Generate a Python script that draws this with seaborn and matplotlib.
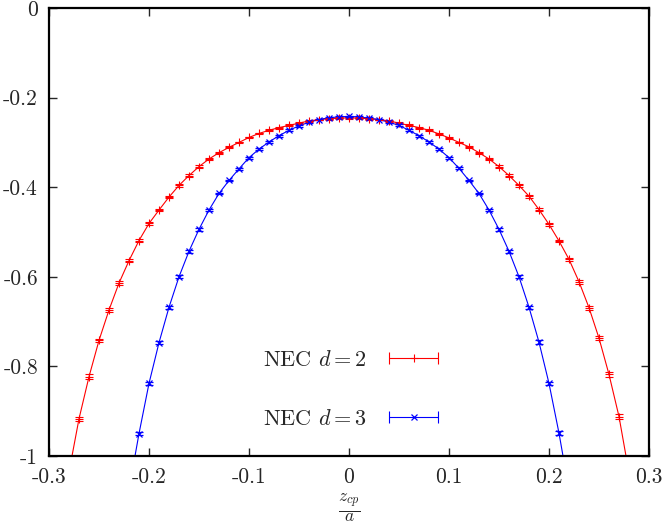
import matplotlib
matplotlib.use('Agg')
import matplotlib.pyplot as plt
import seaborn as sns
import pandas as pd
from matplotlib.lines import Line2D
from matplotlib.legend_handler import HandlerLine2D, HandlerTuple

# NEC d = 2 (red)
red_x = [-0.27, -0.26, -0.25, -0.24, -0.23, -0.22, -0.21, -0.20, -0.19, -0.18,
         -0.17, -0.16, -0.15, -0.14, -0.13, -0.12, -0.11, -0.10, -0.09, -0.08,
         -0.07, -0.06, -0.05, -0.04, -0.03, -0.02, -0.01, 0.00, 0.01, 0.02,
         0.03, 0.04, 0.05, 0.06, 0.07, 0.08, 0.09, 0.10, 0.11, 0.12,
         0.13, 0.14, 0.15, 0.16, 0.17, 0.18, 0.19, 0.20, 0.21, 0.22,
         0.23, 0.24, 0.25, 0.26, 0.27]
red_y = [-0.917, -0.823, -0.742, -0.674, -0.614, -0.564, -0.519, -0.481, -0.451, -0.422,
         -0.396, -0.374, -0.354, -0.337, -0.323, -0.311, -0.300, -0.289, -0.280, -0.273,
         -0.267, -0.262, -0.257, -0.252, -0.249, -0.247, -0.246, -0.245, -0.246, -0.247,
         -0.249, -0.252, -0.257, -0.262, -0.267, -0.273, -0.281, -0.290, -0.300, -0.310,
         -0.323, -0.337, -0.354, -0.374, -0.396, -0.420, -0.450, -0.483, -0.520, -0.561,
         -0.611, -0.669, -0.737, -0.818, -0.912]
red_err = [0.005, 0.005, 0.004, 0.004, 0.004, 0.004, 0.003, 0.003, 0.003, 0.003,
           0.003, 0.003, 0.003, 0.002, 0.002, 0.002, 0.002, 0.002, 0.002, 0.002,
           0.002, 0.002, 0.002, 0.002, 0.002, 0.002, 0.002, 0.002, 0.002, 0.002,
           0.002, 0.002, 0.002, 0.002, 0.002, 0.002, 0.002, 0.002, 0.002, 0.002,
           0.002, 0.002, 0.003, 0.003, 0.003, 0.003, 0.003, 0.003, 0.003, 0.004,
           0.004, 0.004, 0.004, 0.005, 0.005]
# where the fitted line leaves the frame
red_edge_x = [-0.277, 0.277]

# NEC d = 3 (blue)
blue_x = [-0.21, -0.20, -0.19, -0.18, -0.17, -0.16, -0.15, -0.14, -0.13, -0.12,
          -0.11, -0.10, -0.09, -0.08, -0.07, -0.06, -0.05, -0.04, -0.03, -0.02,
          -0.01, 0.00, 0.01, 0.02, 0.03, 0.04, 0.05, 0.06, 0.07, 0.08,
          0.09, 0.10, 0.11, 0.12, 0.13, 0.14, 0.15, 0.16, 0.17, 0.18,
          0.19, 0.20, 0.21]
blue_y = [-0.950, -0.838, -0.747, -0.668, -0.600, -0.543, -0.494, -0.451, -0.414, -0.385,
          -0.359, -0.334, -0.315, -0.299, -0.285, -0.273, -0.263, -0.255, -0.249, -0.245,
          -0.243, -0.242, -0.243, -0.246, -0.249, -0.255, -0.262, -0.273, -0.285, -0.299,
          -0.315, -0.334, -0.358, -0.385, -0.414, -0.451, -0.494, -0.543, -0.600, -0.668,
          -0.746, -0.838, -0.949]
blue_err = [0.004, 0.004, 0.004, 0.003, 0.003, 0.003, 0.003, 0.003, 0.002, 0.002,
            0.002, 0.002, 0.002, 0.002, 0.002, 0.002, 0.002, 0.002, 0.002, 0.002,
            0.002, 0.002, 0.002, 0.002, 0.002, 0.002, 0.002, 0.002, 0.002, 0.002,
            0.002, 0.002, 0.002, 0.002, 0.002, 0.003, 0.003, 0.003, 0.003, 0.003,
            0.004, 0.004, 0.004]
blue_edge_x = [-0.214, 0.214]

x_ticks = [-0.3, -0.2, -0.1, 0.0, 0.1, 0.2, 0.3]
x_tick_labels = ['-0.3', '-0.2', '-0.1', '0', '0.1', '0.2', '0.3']
y_ticks = [-1.0, -0.8, -0.6, -0.4, -0.2, 0.0]
y_tick_labels = ['-1', '-0.8', '-0.6', '-0.4', '-0.2', '0']

sns.set_style('ticks')
plt.rcParams['font.family'] = ['cmr10', 'DejaVu Serif']
plt.rcParams['mathtext.fontset'] = 'cm'
plt.rcParams['axes.unicode_minus'] = False

fig = plt.figure(figsize=(6.66, 5.28), dpi=100)
ax = fig.add_axes([49 / 666, 72 / 528, 600 / 666, 448 / 528])

red_line = pd.DataFrame({'x': [red_edge_x[0]] + red_x + [red_edge_x[1]],
                         'y': [-1.0] + red_y + [-1.0]})
blue_line = pd.DataFrame({'x': [blue_edge_x[0]] + blue_x + [blue_edge_x[1]],
                          'y': [-1.0] + blue_y + [-1.0]})

sns.lineplot(data=red_line, x='x', y='y', color='#ff0000', lw=0.8,
             sort=False, estimator=None, ax=ax)
sns.lineplot(data=blue_line, x='x', y='y', color='#0000ff', lw=0.8,
             sort=False, estimator=None, ax=ax)

ax.errorbar(red_x, red_y, yerr=red_err, fmt='+', color='#ff0000', ms=6, mew=0.8,
            elinewidth=0.8, capsize=3, capthick=0.8)
ax.errorbar(blue_x, blue_y, yerr=blue_err, fmt='x', color='#0000ff', ms=4.5, mew=0.9,
            elinewidth=0.8, capsize=3, capthick=0.8)

ax.set_xlim(-0.3, 0.3)
ax.set_ylim(-1, 0)
ax.set_xticks(x_ticks)
ax.set_xticklabels(x_tick_labels)
ax.set_yticks(y_ticks)
ax.set_yticklabels(y_tick_labels)
ax.tick_params(direction='in', top=True, right=True, length=6, width=1,
               labelsize=15.5, pad=8)
for s in ax.spines.values():
    s.set_linewidth(1.6)
    s.set_color('black')

ax.set_xlabel(r'$\frac{z_{cp}}{a}$', fontsize=18, labelpad=4)
ax.set_ylabel('')

# gnuplot style keys: line with caps at the ends, point in the middle
red_caps = Line2D([], [], color='#ff0000', lw=0.8, marker='|', ms=8, mew=0.8)
red_mark = Line2D([], [], color='#ff0000', ls='none', marker='+', ms=6, mew=0.8)
blue_caps = Line2D([], [], color='#0000ff', lw=0.8, marker='|', ms=8, mew=0.8)
blue_mark = Line2D([], [], color='#0000ff', ls='none', marker='x', ms=4.5, mew=0.9)
hmap = {red_caps: HandlerLine2D(numpoints=2), blue_caps: HandlerLine2D(numpoints=2),
        red_mark: HandlerLine2D(numpoints=1), blue_mark: HandlerLine2D(numpoints=1),
        tuple: HandlerTuple(ndivide=1, pad=0)}
ax.legend([(red_caps, red_mark), (blue_caps, blue_mark)],
          [r'NEC $d = 2$', r'NEC $d = 3$'],
          handler_map=hmap, loc='center', bbox_to_anchor=(0.508, 0.148),
          frameon=False, markerfirst=False, fontsize=16, handlelength=2.8,
          handletextpad=0.7, labelspacing=1.75)

fig.savefig('out.png', dpi=100)
